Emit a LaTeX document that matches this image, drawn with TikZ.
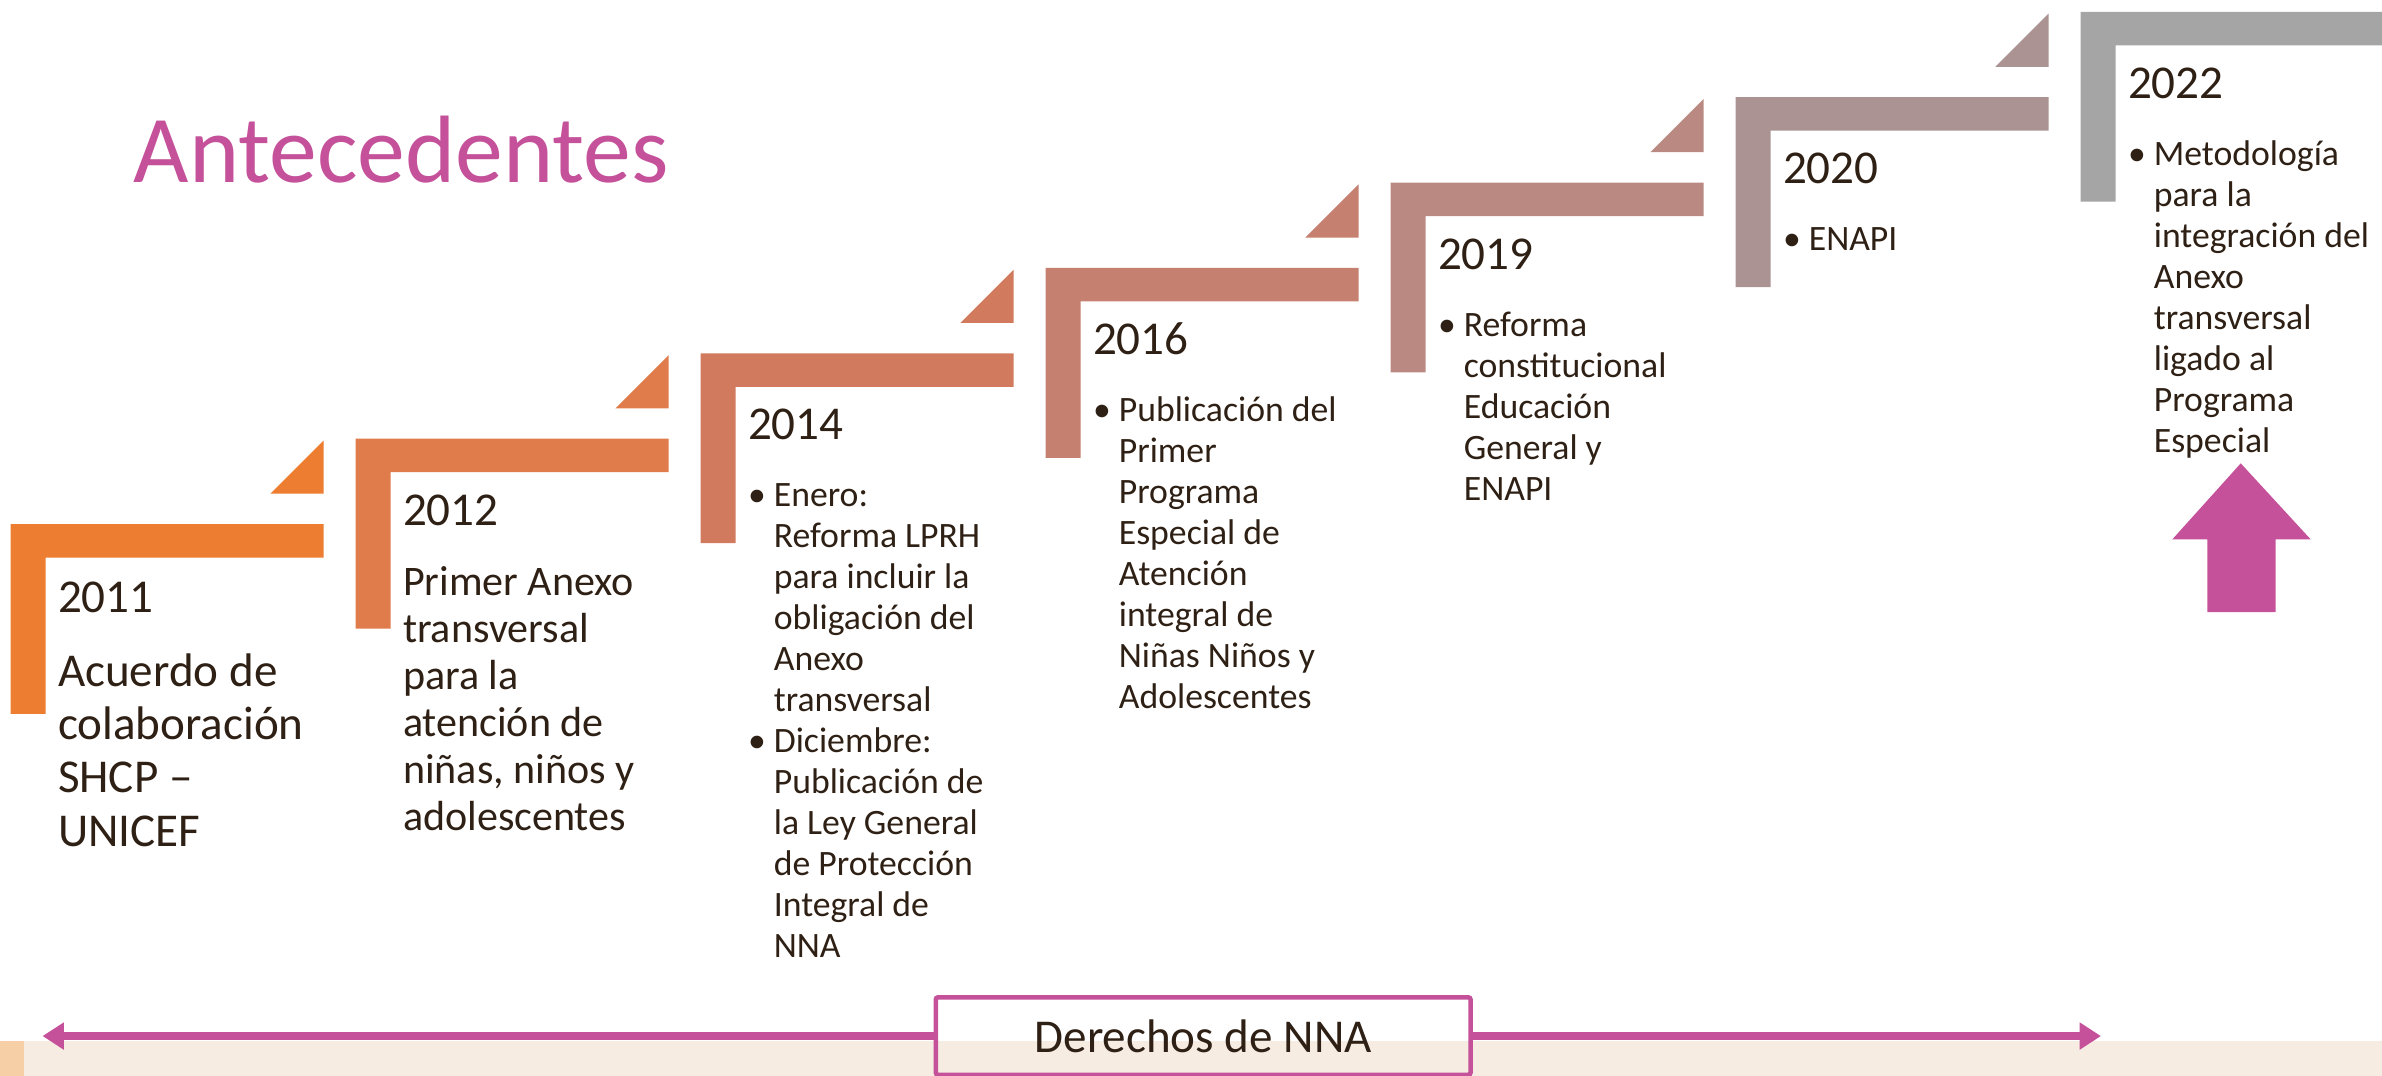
\documentclass[tikz,border=0pt]{standalone}
\usepackage{fontspec}
\setmainfont{Carlito}
\usetikzlibrary{arrows.meta,calc,positioning}
\definecolor{nna}{HTML}{C4519A}
\definecolor{ink}{HTML}{2E2014}
\definecolor{band}{HTML}{F6ECE2}
\definecolor{peach}{HTML}{F7CFA6}
\newcommand{\blt}[1]{\makebox[17pt][l]{\textbullet}\begin{tabular}[t]{@{}l@{}}#1\end{tabular}}
\newcommand{\lns}[1]{\begin{tabular}[t]{@{}l@{}}#1\end{tabular}}

\begin{document}
\begin{tikzpicture}[x=1pt,y=-1pt,
  year/.style={anchor=base west,inner sep=0pt,text=ink,font=\fontsize{31}{35}\selectfont},
  body/.style={anchor=base west,inner sep=0pt,text=ink,font=\fontsize{23.5}{27}\selectfont},
  conn/.style={nna,line width=5pt,-{Triangle[length=14pt,width=17pt]}}]
\useasboundingbox (0,0) rectangle (1568,708);
% band at the bottom
\fill[band] (0,685) rectangle (1568,708);
\fill[peach] (0,685) rectangle (16,708);
% the steps
\foreach \k/\c in {0/ED7D31,1/E07B4B,2/D27A5E,3/C58070,4/BA8A82,5/AB9393,6/A5A5A5}{
  \definecolor{stepc}{HTML}{\c}
  \coordinate (s\k) at (7+227.1*\k,345-56.2*\k);
  \fill[stepc] (s\k) -- ++(206,0) -- ++(0,22) -- ++(-183,0) -- ++(0,103) -- ++(-23,0) -- cycle;
  \ifnum\k<6 \fill[stepc] ($(s\k)+(171,-20)$) -- ++(35,-35) -- ++(0,35) -- cycle; \fi
}
\node [anchor=base west,inner sep=0pt,text=nna,font=\fontsize{63}{70}\selectfont] (title) at (88,120) {Antecedentes};
% years
\node [year] (yr0) at ($(s0)+(31,58)$) {2011};
\node [year] (yr1) at ($(s1)+(31,57)$) {2012};
\node [year] (yr2) at ($(s2)+(31,57)$) {2014};
\node [year] (yr3) at ($(s3)+(31,57)$) {2016};
\node [year] (yr4) at ($(s4)+(31,57)$) {2019};
\node [year] (yr5) at ($(s5)+(31,57)$) {2020};
\node [year] (yr6) at ($(s6)+(31,57)$) {2022};
% texts
\node [body,font=\fontsize{31}{35}\selectfont] (tx0) at ($(s0)+(31,107)$)
  {\lns{Acuerdo de\\colaboración\\SHCP –\\UNICEF}};
\node [body,font=\fontsize{27.7}{31}\selectfont] (tx1) at ($(s1)+(31,103)$)
  {\lns{Primer Anexo\\transversal\\para la\\atención de\\niñas, niños y\\adolescentes}};
\node [body] (tx2) at ($(s2)+(31,101)$)
  {\lns{\blt{Enero:\\Reforma LPRH\\para incluir la\\obligación del\\Anexo\\transversal}\\[6pt]
   \blt{Diciembre:\\Publicación de\\la Ley General\\de Protección\\Integral de\\NNA}}};
\node [body] (tx3) at ($(s3)+(31,101)$)
  {\blt{Publicación del\\Primer\\Programa\\Especial de\\Atención\\integral de\\Niñas Niños y\\Adolescentes}};
\node [body] (tx4) at ($(s4)+(31,101)$)
  {\blt{Reforma\\constitucional\\Educación\\General y\\ENAPI}};
\node [body] (tx5) at ($(s5)+(31,101)$) {\blt{ENAPI}};
\node [body] (tx6) at ($(s6)+(31,101)$)
  {\blt{Metodología\\para la\\integración del\\Anexo\\transversal\\ligado al\\Programa\\Especial}};
% block arrow
\fill[nna] (1475,305) -- (1521,355) -- (1498,355) -- (1498,403) -- (1453,403) -- (1453,355) -- (1430,355) -- cycle;
% rights bar
\node [draw=nna,line width=3pt,rounded corners=1.5pt,minimum width=352pt,minimum height=51pt,
  inner sep=0pt,text=ink,font=\fontsize{31}{35}\selectfont] (derechos) at (792,682) {Derechos de NNA};
\coordinate (izq) at (28,682);
\coordinate (der) at (1383,682);
\draw [conn] (derechos.west) -- (izq);
\draw [conn] (derechos.east) -- (der);
\end{tikzpicture}
\end{document}
